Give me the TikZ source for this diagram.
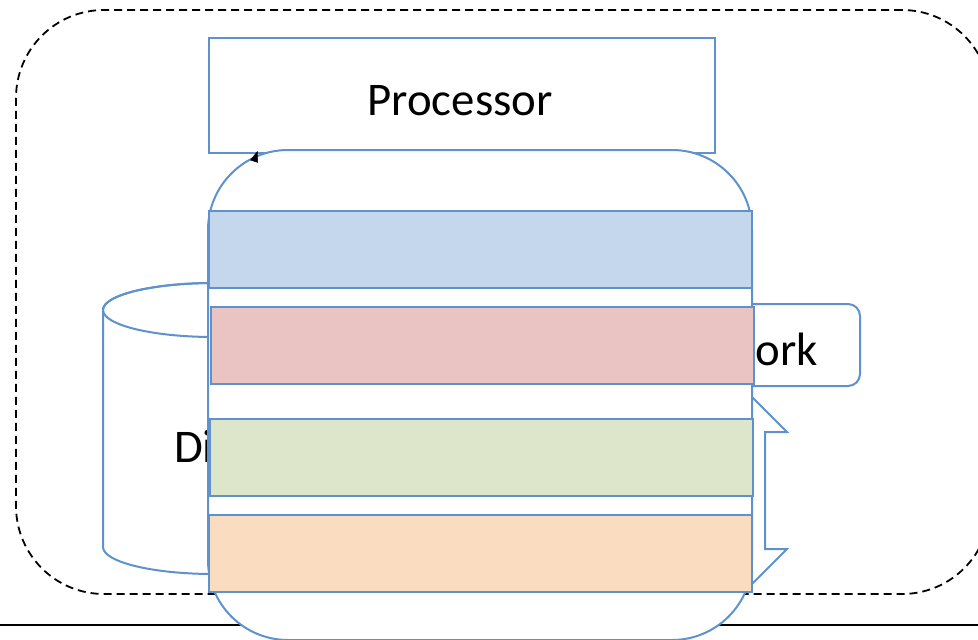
\documentclass[tikz,border=0pt]{standalone}
\usepackage{fontspec}
\setmainfont{Carlito}
\usetikzlibrary{arrows.meta}
\definecolor{edge}{RGB}{95,145,205}
\definecolor{barblue}{HTML}{C5D7EC}
\definecolor{barred}{HTML}{EAC4C3}
\definecolor{bargreen}{HTML}{DDE6CA}
\definecolor{barorange}{HTML}{FADCC0}
\begin{document}
\begin{tikzpicture}[x=1pt,y=-1pt,
  bluebox/.style={draw=edge,line width=2pt,fill=white,inner sep=0pt},
  barbox/.style={draw=edge,line width=2pt,inner sep=0pt,minimum width=543pt,minimum height=77pt},
  bigtext/.style={font=\fontsize{46.8pt}{56pt}\selectfont,inner sep=0pt,text=black}]
\useasboundingbox (0,0) rectangle (978,640);
\clip (0,0) rectangle (978,640);
% system boundary
\node[draw=black,dash pattern=on 8pt off 5pt,line width=1.8pt,rounded corners=88pt,
      minimum width=974pt,minimum height=584pt,inner sep=0pt] (sys) at (503,302) {};
% bottom line
\coordinate (bl) at (0,625);
\coordinate (br) at (978,625);
\draw[black,line width=2.8pt] (bl) -- (br);
% disk cylinder
\draw[edge,line width=2pt,fill=white] (103,310) -- (103,547)
   arc[start angle=180,end angle=360,x radius=110.5pt,y radius=27pt]
   -- (324,310) arc[start angle=0,end angle=180,x radius=110.5pt,y radius=27pt] -- cycle;
\draw[edge,line width=2pt] (213.5,310) ellipse[x radius=110.5pt,y radius=27pt];
\node[bigtext,anchor=base west] (disk) at (174,462) {Disk};
% network
\node[bluebox,rounded corners=12pt,minimum width=250pt,minimum height=82pt] (net) at (735,345) {};
\node[bigtext,anchor=base east] (nettext) at (818,365) {Network};
% callout arrow shape
\draw[edge,line width=2pt,fill=white] (717,362) -- (787,432) -- (765,432) -- (765,549) -- (787,549) -- (717,619) -- cycle;
% processor
\node[bluebox,minimum width=506pt,minimum height=115pt] (proc) at (461.5,95.5) {};
\node[bigtext,anchor=base] (proctext) at (460,115) {Processor};
% memory
\node[bluebox,rounded corners=80pt,minimum width=544pt,minimum height=490pt] (mem) at (480,395) {};
% connector tip (rest hidden behind memory)
\coordinate (cstart) at (254,161.5);
\coordinate (ctip) at (257.5,151);
\draw[black,line width=0.5pt,-{Triangle[length=11pt,width=8pt]}] (cstart) -- (ctip);
% bars
\node[barbox,fill=barblue] (b1) at (480.5,249.5) {};
\node[barbox,fill=barred] (b2) at (482.5,345.5) {};
\node[barbox,fill=bargreen] (b3) at (481.5,457.5) {};
\node[barbox,fill=barorange] (b4) at (480.5,553) {};
\end{tikzpicture}
\end{document}
